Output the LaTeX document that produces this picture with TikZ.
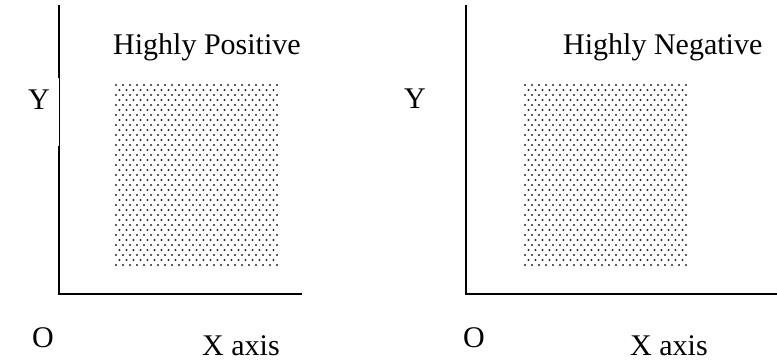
\documentclass[tikz,border=0pt]{standalone}
\usepackage{fontspec}
\setmainfont{Liberation Serif}
\usetikzlibrary{positioning}

\begin{document}
\begin{tikzpicture}[
        x=1pt, y=-1pt,
        font=\fontsize{30}{36}\selectfont,
        label/.style={
            inner sep=0pt,
            anchor=base west
        },
        axis/.style={line width=1.6pt, line cap=rect},
        thinaxis/.style={line width=0.8pt},
        dotc/.style={fill=black!85}
    ]
        \useasboundingbox (0,0) rectangle (777,361);

        % left chart
        \coordinate (ltop) at (59,6);
        \coordinate (lgapa) at (59,77);
        \coordinate (lgapb) at (59,147);
        \coordinate (lo) at (59,294);
        \coordinate (lend) at (301,294);
        \draw[axis] (ltop) -- (lgapa);
        \draw[thinaxis] (lgapa) -- (lgapb);
        \draw[axis] (lgapb) -- (lo) -- (lend);

        \node[label] (lhead) at (113,55) {Highly Positive};
        \node[label] (ly) at (28,110) {Y};
        \node[label] (lorig) at (32,347) {O};
        \node[label] (lx) at (202,355) {X axis};

        % right chart
        \coordinate (rtop) at (466,6);
        \coordinate (ro) at (466,294);
        \coordinate (rend) at (777,294);
        \draw[axis] (rtop) -- (ro) -- (rend);

        \node[label] (rhead) at (563,55) {Highly Negative};
        \node[label] (ry) at (404,108) {Y};
        \node[label] (rorig) at (463,347) {O};
        \node[label] (rx) at (630,355) {X axis};

        % dotted regions
        \foreach \xa/\xb in {114/278,523/687} {
            \begin{scope}
                \clip (\xa,83) rectangle (\xb,267);
                \foreach \r in {0,...,36} {
                    \foreach \c in {0,...,23} {
                        \fill[dotc] ({\xa+2+7*\c+3.5*mod(\r,2)},{85+5*\r}) circle[radius=1.1];
                    }
                }
            \end{scope}
        }
    \end{tikzpicture}
\end{document}
